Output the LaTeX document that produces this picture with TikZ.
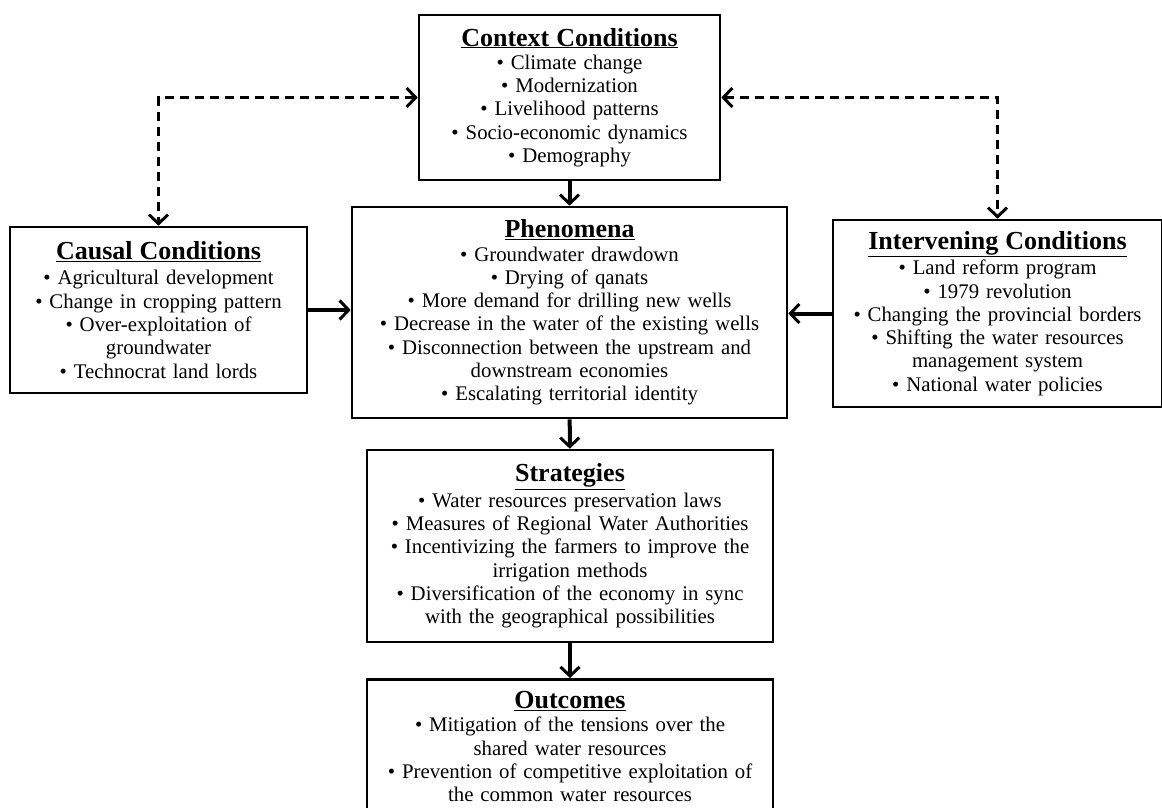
\documentclass[tikz,border=0pt]{standalone}
\usepackage{fontspec}
\setmainfont{Liberation Serif}
\usetikzlibrary{arrows.meta,positioning}

\newcommand{\boxtitle}[1]{{\fontsize{26}{23.3}\selectfont\underline{\textbf{#1}}}}

\begin{document}
\begin{tikzpicture}[x=1pt,y=-1pt, >={Straight Barb[length=9pt,width=19pt,line width=3pt]}, font=\fontsize{20.8}{23.3}\selectfont]
  \tikzstyle{box}=[draw=black,line width=2.6pt,align=center,inner xsep=2pt,inner ysep=0pt]
  \tikzstyle{flow}=[->,line width=4pt]
  \tikzstyle{link}=[<->,line width=2.4pt,dash pattern=on 9pt off 6pt]

  \useasboundingbox (0,0) rectangle (1162,808);
  \clip (0,0) rectangle (1162,808);

  \node[box,minimum width=301pt,minimum height=165pt,text width=297pt] (context) at (569.5,97.5)
    {\boxtitle{Context Conditions}\\
     \textbullet\ Climate change\\
     \textbullet\ Modernization\\
     \textbullet\ Livelihood patterns\\
     \textbullet\ Socio-economic dynamics\\
     \textbullet\ Demography};
  \node[box,minimum width=435pt,minimum height=211pt,text width=431pt] (phen) at (569.5,312.5)
    {\boxtitle{Phenomena}\\
     \textbullet\ Groundwater drawdown\\
     \textbullet\ Drying of qanats\\
     \textbullet\ More demand for drilling new wells\\
     \textbullet\ Decrease in the water of the existing wells\\
     \textbullet\ Disconnection between the upstream and\\
     downstream economies\\
     \textbullet\ Escalating territorial identity};
  \node[box,minimum width=297pt,minimum height=166pt,text width=293pt] (causal) at (158.5,310)
    {\boxtitle{Causal Conditions}\\[2pt]
     \textbullet\ Agricultural development\\
     \textbullet\ Change in cropping pattern\\
     \textbullet\ Over-exploitation of\\
     groundwater\\
     \textbullet\ Technocrat land lords};
  \node[box,minimum width=329pt,minimum height=187pt,text width=325pt] (interv) at (997.5,313.5)
    {\boxtitle{Intervening Conditions}\\[2pt]
     \textbullet\ Land reform program\\
     \textbullet\ 1979 revolution\\
     \textbullet\ Changing the provincial borders\\
     \textbullet\ Shifting the water resources\\
     management system\\
     \textbullet\ National water policies};
  \node[box,minimum width=406pt,minimum height=192pt,text width=402pt] (strat) at (570,546)
    {\boxtitle{Strategies}\\[2pt]
     \textbullet\ Water resources preservation laws\\
     \textbullet\ Measures of Regional Water Authorities\\
     \textbullet\ Incentivizing the farmers to improve the\\
     irrigation methods\\
     \textbullet\ Diversification of the economy in sync\\
     with the geographical possibilities};
  \node[box,anchor=north,minimum width=406pt,text width=402pt,inner ysep=12pt] (outcome) at (570,678)
    {\boxtitle{Outcomes}\\
     \textbullet\ Mitigation of the tensions over the\\
     shared water resources\\
     \textbullet\ Prevention of competitive exploitation of\\
     the common water resources};

  \draw[flow] (context) -- (phen);
  \draw[flow] (phen) -- (strat);
  \draw[flow] (strat) -- (outcome);
  \draw[flow] (causal.east) -- (causal.east -| phen.west);
  \draw[flow] (interv.west) -- (interv.west -| phen.east);
  \draw[link] (context.west) -| (causal.north);
  \draw[link] (context.east) -| (interv.north);
\end{tikzpicture}
\end{document}
